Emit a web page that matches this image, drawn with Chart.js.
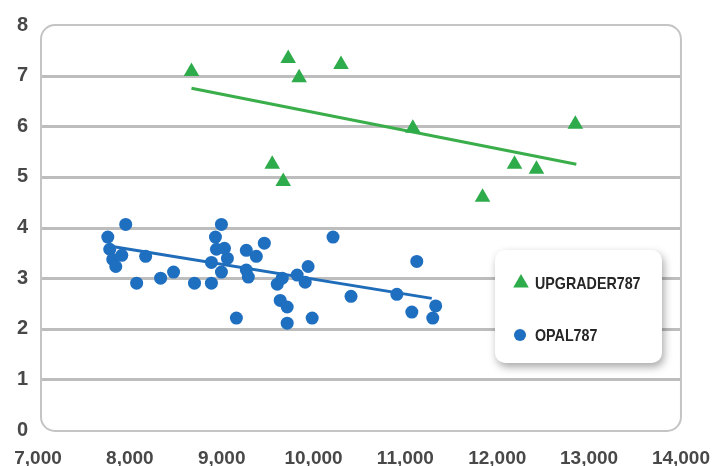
<!DOCTYPE html>
<html>
<head>
<meta charset="utf-8">
<script src="https://cdn.jsdelivr.net/npm/chart.js@4.4.1/dist/chart.umd.min.js"></script>
<style>
  html, body { margin: 0; padding: 0; background: #fff; }
</style>
</head>
<body>
<canvas id="myChart" width="719" height="466"></canvas>
<script>
const xTicks = [7000, 8000, 9000, 10000, 11000, 12000, 13000, 14000];
const yTicks = [0, 1, 2, 3, 4, 5, 6, 7, 8];

const upgraderX = [8671, 9724, 9843, 10299, 9550, 9670, 11081, 11840, 12188, 12427, 12850];
const upgraderY = [7.08, 7.34, 6.96, 7.22, 5.25, 4.91, 5.96, 4.60, 5.25, 5.15, 6.04];

const opalX = [7760, 7781, 7814, 7847, 7912, 7955, 8172, 8074, 8335, 8476,
               8704, 8888, 9160, 8888, 8943, 8932, 8997, 9030, 9062, 8997,
               9268, 9377, 9464, 9268, 9290, 9605, 9637, 9713, 9713, 9985,
               9822, 9909, 9941, 9659, 10212, 10408, 10907, 11124, 11070, 11330, 11298];
const opalY = [3.81, 3.57, 3.37, 3.23, 3.45, 4.06, 3.43, 2.90, 3.00, 3.12,
               2.90, 2.90, 2.21, 3.31, 3.57, 3.81, 4.06, 3.59, 3.39, 3.12,
               3.55, 3.43, 3.69, 3.16, 3.02, 2.88, 2.56, 2.43, 2.11, 2.21,
               3.06, 2.92, 3.23, 3.00, 3.81, 2.64, 2.68, 3.33, 2.33, 2.45, 2.21];

// trend line ends
const upgraderTrendX = [8671, 12861];
const upgraderTrendY = [6.75, 5.25];
const opalTrendX = [7792, 11287];
const opalTrendY = [3.63, 2.60];

const GREEN = '#2eab4b';
const BLUE = '#1f6fc0';
const FONT = "'Liberation Sans', Arial, sans-serif";

const pts = (xs, ys) => xs.map((x, i) => ({ x: x, y: ys[i] }));

// rounded frame and horizontal grid lines
const frame = {
  id: 'frame',
  beforeDatasetsDraw(chart) {
    const { ctx, chartArea: a, scales: { y } } = chart;
    const left = a.left + 3, right = a.right, top = a.top, bottom = a.bottom + 1;
    ctx.save();
    ctx.strokeStyle = '#bdbdbd';
    ctx.lineWidth = 3;
    yTicks.forEach(v => {
      if (v === y.min || v === y.max) return;
      const py = Math.round(y.getPixelForValue(v)) + 0.5;
      ctx.beginPath();
      ctx.moveTo(left, py);
      ctx.lineTo(right, py);
      ctx.stroke();
    });
    ctx.strokeStyle = '#c4c4c4';
    ctx.lineWidth = 2;
    ctx.beginPath();
    ctx.roundRect(left, top, right - left, bottom - top, 14);
    ctx.stroke();
    ctx.restore();
  }
};

// legend card inside the plot
const legendCard = {
  id: 'legendCard',
  afterDraw(chart) {
    const { ctx } = chart;
    const bx = 495, by = 250, bw = 167, bh = 113;
    ctx.save();
    ctx.shadowColor = 'rgba(0,0,0,0.35)';
    ctx.shadowBlur = 9;
    ctx.shadowOffsetX = 2;
    ctx.shadowOffsetY = 4;
    ctx.fillStyle = '#fff';
    ctx.beginPath();
    ctx.roundRect(bx, by, bw, bh, 10);
    ctx.fill();
    ctx.restore();

    ctx.save();
    const items = [chart.data.datasets[0], chart.data.datasets[1]];
    const rows = [283, 335];
    ctx.font = "bold 17px " + FONT;
    ctx.textBaseline = 'middle';
    ctx.fillStyle = '#262626';
    items.forEach((ds, i) => {
      const cy = rows[i];
      ctx.save();
      ctx.fillStyle = ds.backgroundColor;
      ctx.beginPath();
      if (ds.pointStyle === 'triangle') {
        const r = 9;
        ctx.moveTo(521, cy - r);
        ctx.lineTo(521 + r * 0.866, cy + r / 2);
        ctx.lineTo(521 - r * 0.866, cy + r / 2);
        ctx.closePath();
      } else {
        ctx.arc(520, cy, 6, 0, Math.PI * 2);
      }
      ctx.fill();
      ctx.restore();
      // condensed look: squeeze the text horizontally
      ctx.save();
      ctx.translate(535, cy + 1);
      ctx.scale(0.84, 1);
      ctx.fillText(ds.label, 0, 0);
      ctx.restore();
    });
    ctx.restore();
  }
};

const ctx = document.getElementById('myChart');

const chart = new Chart(ctx, {
  type: 'scatter',
  data: {
    datasets: [{
      label: 'UPGRADER787',
      data: pts(upgraderX, upgraderY),
      pointStyle: 'triangle',
      pointRadius: 9,
      backgroundColor: GREEN,
      borderWidth: 0
    }, {
      label: 'OPAL787',
      data: pts(opalX, opalY),
      pointStyle: 'circle',
      pointRadius: 6.5,
      backgroundColor: BLUE,
      borderWidth: 0
    }, {
      label: 'upgrader trend',
      data: pts(upgraderTrendX, upgraderTrendY),
      showLine: true,
      pointRadius: 0,
      borderColor: '#3aae4a',
      borderWidth: 3
    }, {
      label: 'opal trend',
      data: pts(opalTrendX, opalTrendY),
      showLine: true,
      pointRadius: 0,
      borderColor: '#1f6cb9',
      borderWidth: 3
    }]
  },
  options: {
    responsive: false,
    animation: false,
    devicePixelRatio: 1,
    layout: { padding: { top: 25, right: 36, left: 0, bottom: 0 } },
    plugins: {
      legend: { display: false },
      tooltip: { enabled: false }
    },
    scales: {
      x: {
        type: 'linear',
        min: 7000,
        max: 14000,
        afterBuildTicks: s => { s.ticks = xTicks.map(v => ({ value: v })); },
        afterFit: s => { s.height = 36; },
        grid: { display: false },
        border: { display: false },
        ticks: {
          autoSkip: false,
          maxRotation: 0,
          padding: 9,
          color: '#484848',
          font: { family: FONT, size: 19, weight: 'bold' },
          callback: v => v.toLocaleString('en-US')
        }
      },
      y: {
        min: 0,
        max: 8,
        afterBuildTicks: s => { s.ticks = yTicks.map(v => ({ value: v })); },
        afterFit: s => { s.width = 38; },
        grid: { display: false },
        border: { display: false },
        ticks: {
          padding: 2,
          color: '#484848',
          font: { family: FONT, size: 20, weight: 'bold' }
        }
      }
    }
  },
  plugins: [frame, legendCard]
});
</script>
</body>
</html>
